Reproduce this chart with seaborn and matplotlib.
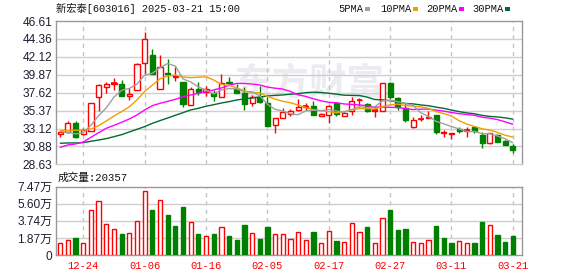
import matplotlib
matplotlib.use("Agg")
import matplotlib.pyplot as plt
import seaborn as sns
import pandas as pd
import numpy as np

# ---------------- data ----------------
dates = ["12-19", "12-20", "12-23", "12-24", "12-25", "12-26", "12-27", "12-30", "12-31",
         "01-02", "01-03", "01-06", "01-07", "01-08", "01-09", "01-10", "01-13", "01-14",
         "01-15", "01-16", "01-17", "01-20", "01-21", "01-22", "01-23", "01-24", "01-27",
         "02-05", "02-06", "02-07", "02-10", "02-11", "02-12", "02-13", "02-14", "02-17",
         "02-18", "02-19", "02-20", "02-21", "02-24", "02-25", "02-26", "02-27", "02-28",
         "03-03", "03-04", "03-05", "03-06", "03-07", "03-10", "03-11", "03-12", "03-13",
         "03-14", "03-17", "03-18", "03-19", "03-20", "03-21"]

opens = [32.39, 32.68, 33.78, 32.39, 32.85, 37.11, 38.30, 38.72, 38.72, 37.16,
         37.96, 41.38, 42.30, 38.13, 40.07, 39.62, 39.01, 36.06, 38.13, 37.75,
         37.58, 37.07, 38.90, 38.04, 37.62, 36.27, 37.07, 36.36, 33.61, 34.50,
         34.92, 35.47, 35.81, 35.98, 34.75, 34.79, 36.27, 34.67, 35.26, 36.65,
         36.19, 35.38, 35.30, 38.85, 36.95, 35.72, 33.36, 34.29, 34.50, 34.79,
         32.51, 32.39, 33.02, 32.84, 33.27, 32.30, 31.33, 32.26, 31.59, 30.95]
highs = [32.81, 34.08, 34.08, 33.15, 36.36, 38.76, 39.01, 39.44, 39.23, 38.17,
         41.33, 45.26, 43.06, 42.30, 41.88, 40.83, 39.01, 38.38, 39.01, 38.47,
         37.92, 39.90, 39.60, 38.76, 38.34, 37.33, 38.47, 37.11, 34.46, 35.64,
         35.55, 36.82, 36.31, 36.61, 35.09, 36.02, 36.44, 35.38, 37.07, 36.99,
         36.31, 35.98, 38.89, 38.97, 37.07, 36.31, 34.54, 34.79, 35.34, 34.84,
         32.94, 32.56, 33.27, 33.27, 33.36, 32.73, 32.56, 32.43, 31.63, 31.16]
lows = [32.01, 32.51, 31.88, 32.35, 32.81, 35.38, 37.58, 37.92, 37.20, 36.73,
        37.92, 39.90, 39.90, 38.04, 38.72, 39.06, 35.81, 36.02, 37.37, 37.24,
        36.61, 37.03, 38.63, 37.54, 35.47, 35.98, 36.36, 33.44, 32.60, 34.46,
        34.63, 35.38, 35.47, 34.79, 34.63, 33.87, 34.75, 34.63, 34.84, 35.81,
        35.17, 34.54, 35.26, 36.86, 35.47, 34.00, 33.23, 34.12, 34.46, 32.47,
        32.01, 31.84, 32.60, 32.09, 32.51, 30.70, 31.12, 31.42, 31.04, 30.07]
closes = [32.64, 33.78, 32.09, 32.94, 36.31, 38.55, 38.72, 38.80, 37.24, 37.45,
          41.25, 44.33, 39.98, 40.83, 39.98, 39.70, 36.19, 38.09, 37.75, 38.04,
          37.16, 38.85, 38.82, 37.62, 36.23, 37.11, 36.40, 33.49, 34.41, 35.17,
          35.38, 35.81, 35.89, 34.84, 34.92, 35.98, 34.96, 35.05, 36.61, 36.74,
          35.26, 35.47, 38.85, 37.03, 35.81, 34.16, 34.20, 34.37, 34.62, 32.73,
          32.64, 32.51, 32.86, 32.90, 32.85, 31.25, 32.51, 31.46, 31.08, 30.41]

ma5 = [32.73, 32.65, 32.44, 32.60, 33.55, 34.73, 35.72, 37.06, 37.92, 38.15,
       38.69, 39.81, 40.05, 40.77, 41.27, 40.96, 39.34, 38.96, 38.34, 37.95,
       37.45, 37.98, 38.13, 38.10, 37.74, 37.73, 37.24, 36.17, 35.53, 35.32,
       34.97, 34.85, 35.33, 35.42, 35.37, 35.49, 35.32, 35.15, 35.50, 35.87,
       35.72, 35.83, 36.59, 36.67, 36.48, 36.26, 36.01, 35.11, 34.63, 34.02,
       33.71, 33.37, 33.07, 32.73, 32.76, 32.47, 32.47, 32.19, 31.83, 31.34]
ma10 = [32.85, 32.90, 32.90, 32.94, 33.06, 33.48, 34.07, 34.69, 35.24, 35.85,
        36.71, 37.77, 38.56, 39.35, 39.71, 39.83, 39.58, 39.50, 39.56, 39.61,
        39.21, 38.66, 38.54, 38.22, 37.85, 37.59, 37.61, 37.15, 36.82, 36.54,
        36.36, 36.06, 35.76, 35.48, 35.35, 35.23, 35.09, 35.24, 35.46, 35.62,
        35.61, 35.57, 35.87, 36.09, 36.18, 35.99, 35.92, 35.85, 35.65, 35.25,
        34.99, 34.69, 34.10, 33.68, 33.38, 33.09, 32.92, 32.63, 32.28, 32.05]
ma20 = [30.76, 31.06, 31.18, 31.43, 32.02, 32.60, 33.15, 33.52, 33.90, 34.32,
        34.82, 35.45, 35.99, 36.28, 36.53, 36.78, 37.12, 37.33, 37.54, 37.73,
        37.96, 38.21, 38.54, 38.78, 38.77, 38.70, 38.59, 38.32, 38.18, 38.07,
        37.77, 37.35, 37.15, 36.85, 36.60, 36.41, 36.35, 36.20, 36.14, 36.08,
        35.98, 35.81, 35.81, 35.78, 35.76, 35.61, 35.50, 35.55, 35.56, 35.43,
        35.30, 35.13, 34.98, 34.88, 34.78, 34.54, 34.42, 34.24, 33.96, 33.65]
ma30 = [31.27, 31.31, 31.31, 31.35, 31.52, 31.68, 31.85, 32.10, 32.35, 32.69,
        33.02, 33.36, 33.77, 34.11, 34.44, 34.78, 35.11, 35.45, 35.66, 35.91,
        36.11, 36.32, 36.49, 36.70, 36.83, 36.95, 37.08, 37.20, 37.28, 37.33,
        37.43, 37.49, 37.62, 37.68, 37.64, 37.55, 37.43, 37.30, 37.28, 37.26,
        37.06, 36.76, 36.72, 36.60, 36.46, 36.27, 36.21, 36.08, 35.98, 35.80,
        35.65, 35.44, 35.24, 35.08, 34.97, 34.77, 34.64, 34.57, 34.46, 34.30]

volumes = [12750, 16030, 18580, 12750, 48830, 58670, 33520, 28060, 22590, 23690,
           36800, 69600, 49190, 60120, 43730, 31340, 52470, 35710, 22960, 20400,
           22960, 30610, 20770, 16400, 32800, 23690, 17490, 30610, 22590, 22590,
           17490, 24780, 16030, 24780, 12750, 25870, 14940, 13850, 34620, 24780,
           30610, 12750, 40080, 49190, 26960, 28420, 13850, 12750, 16030, 31700,
           18580, 12750, 14940, 12750, 12750, 35710, 32430, 21860, 14210, 20357]

price_ticks = [28.63, 30.88, 33.12, 35.37, 37.62, 39.87, 42.12, 44.36, 46.61]
price_labels = ["28.63", "30.88", "33.12", "35.37", "37.62", "39.87", "42.12", "44.36", "46.61"]
vol_ticks = [0, 18700, 37400, 56000, 74700]
vol_labels = ["0", "1.87万", "3.74万", "5.60万", "7.47万"]
date_labels = ["12-24", "01-06", "01-16", "02-05", "02-17", "02-27", "03-11", "03-21"]

title_text = "新宏泰[603016] 2025-03-21 15:00"
vol_title = "成交量:20357"
ma_names = ["5PMA", "10PMA", "20PMA", "30PMA"]
watermark = "东方财富"

# ---------------- style ----------------
sns.set_theme(style="white")
plt.rcParams["font.family"] = ["Liberation Sans", "Noto Sans CJK SC", "DejaVu Sans"]

RED = "#ff0000"
GREEN = "#008000"
MA_COLORS = {"5PMA": "#a0a0a0", "10PMA": "#f0a000", "20PMA": "#ff00ff", "30PMA": "#006b33"}
GRID = "#cfcfcf"
BORDER = "#999999"
LABEL = "#1e1e32"
MONO = ["Liberation Mono", "Noto Sans CJK SC", "DejaVu Sans"]

W, H = 578, 276
fig = plt.figure(figsize=(W / 100, H / 100), dpi=100)
fig.patch.set_facecolor("white")
ax = fig.add_axes([56 / W, 1 - 164.3 / H, 466 / W, (164.3 - 21) / H])
axv = fig.add_axes([56 / W, 1 - 255 / H, 466 / W, (255 - 186.7) / H])

n = len(dates)
x = np.arange(n)
o = np.array(opens); c = np.array(closes); hi = np.array(highs); lo = np.array(lows)
up = c >= o
colors = np.where(up, RED, GREEN)

# ---- candles ----
ax.vlines(x, lo, hi, colors=colors, linewidth=1.0, zorder=2)
body_bottom = np.minimum(o, c)
body_h = np.abs(c - o)
ax.bar(x[up], body_h[up], bottom=body_bottom[up], width=0.66,
       facecolor="white", edgecolor=RED, linewidth=1.0, zorder=3)
ax.bar(x[~up], body_h[~up], bottom=body_bottom[~up], width=0.66,
       facecolor=GREEN, edgecolor=GREEN, linewidth=1.0, zorder=3)
doji = body_h < 0.1
ax.hlines(c[doji], x[doji] - 0.36, x[doji] + 0.36, colors=colors[doji], linewidth=1.2, zorder=3)

# ---- moving averages via seaborn ----
ma_df = pd.DataFrame({
    "idx": np.tile(x, 4),
    "value": ma5 + ma10 + ma20 + ma30,
    "MA": sum([[name] * n for name in ma_names], []),
})
sns.lineplot(data=ma_df, x="idx", y="value", hue="MA", palette=MA_COLORS,
             hue_order=ma_names[::-1], linewidth=1.0, legend=False, ax=ax, zorder=4)

# ---- volume (colour follows close vs previous close) ----
vol = np.array(volumes)
vup = np.r_[c[0] >= o[0], c[1:] >= c[:-1]]
axv.bar(x[vup], vol[vup], width=0.56, facecolor="white", edgecolor=RED, linewidth=1.0, zorder=3)
axv.bar(x[~vup], vol[~vup], width=0.56, facecolor=GREEN, edgecolor=GREEN, linewidth=1.0, zorder=3)

# ---- axes styling ----
tick_pos = [dates.index(d) for d in date_labels]
for a in (ax, axv):
    a.set_xlim(-0.56, 60.2)
    a.set_xlabel(""); a.set_ylabel("")
    a.set_facecolor("white")
    a.set_xticks(tick_pos)
    for t in tick_pos:
        a.axvline(t, color="#c4c4c4", linewidth=1.0, linestyle=(0, (3, 3)), zorder=1)
    for s in a.spines.values():
        s.set_color(BORDER)
        s.set_linewidth(1.0)
    a.tick_params(length=0)

ax.set_ylim(price_ticks[0], price_ticks[-1])
ax.set_yticks(price_ticks)
ax.set_yticklabels(price_labels, fontsize=8.6, color=LABEL)
ax.set_xticklabels([])
ax.spines["bottom"].set_color(GRID)
for t in price_ticks[1:-1]:
    ax.axhline(t, color=GRID, linewidth=1.0, zorder=1)
ax.tick_params(axis="y", pad=2.5)

axv.set_ylim(0, vol_ticks[-1])
axv.set_yticks(vol_ticks)
axv.set_yticklabels(vol_labels, fontsize=8.6, color=LABEL)
for t in vol_ticks[1:-1]:
    axv.axhline(t, color=GRID, linewidth=1.0, zorder=1)
axv.set_xticklabels(date_labels, fontsize=7.6, color=RED, family=MONO)
axv.tick_params(axis="x", pad=4)
axv.tick_params(axis="y", pad=2.5)

# ---- watermark ----
ax.text(0.545, 0.56, watermark, transform=ax.transAxes, fontsize=27,
        color="#ebebf0", ha="center", va="center", family=["Noto Sans CJK SC"],
        fontweight="bold", zorder=0)

# ---- texts ----
fig.text(56 / W, 1 - 8.5 / H, title_text, fontsize=7.4, family=MONO,
         color="#111111", ha="left", va="center")
fig.text(58 / W, 1 - 178 / H, vol_title, fontsize=7.7, family=MONO,
         color="#111111", ha="left", va="center")

legend_x = [338, 380, 426, 472]
for name, lx in zip(ma_names, legend_x):
    fig.text(lx / W, 1 - 8.5 / H, name, fontsize=7.5, family=MONO,
             color="#111111", ha="left", va="center")
    sq_x = lx + len(name) * 6.0 + 3
    fig.patches.append(plt.Rectangle((sq_x / W, 1 - 10.5 / H), 5 / W, 3.5 / H,
                                     transform=fig.transFigure, facecolor=MA_COLORS[name],
                                     edgecolor="none"))

fig.savefig("out.png", dpi=100, facecolor="white")
